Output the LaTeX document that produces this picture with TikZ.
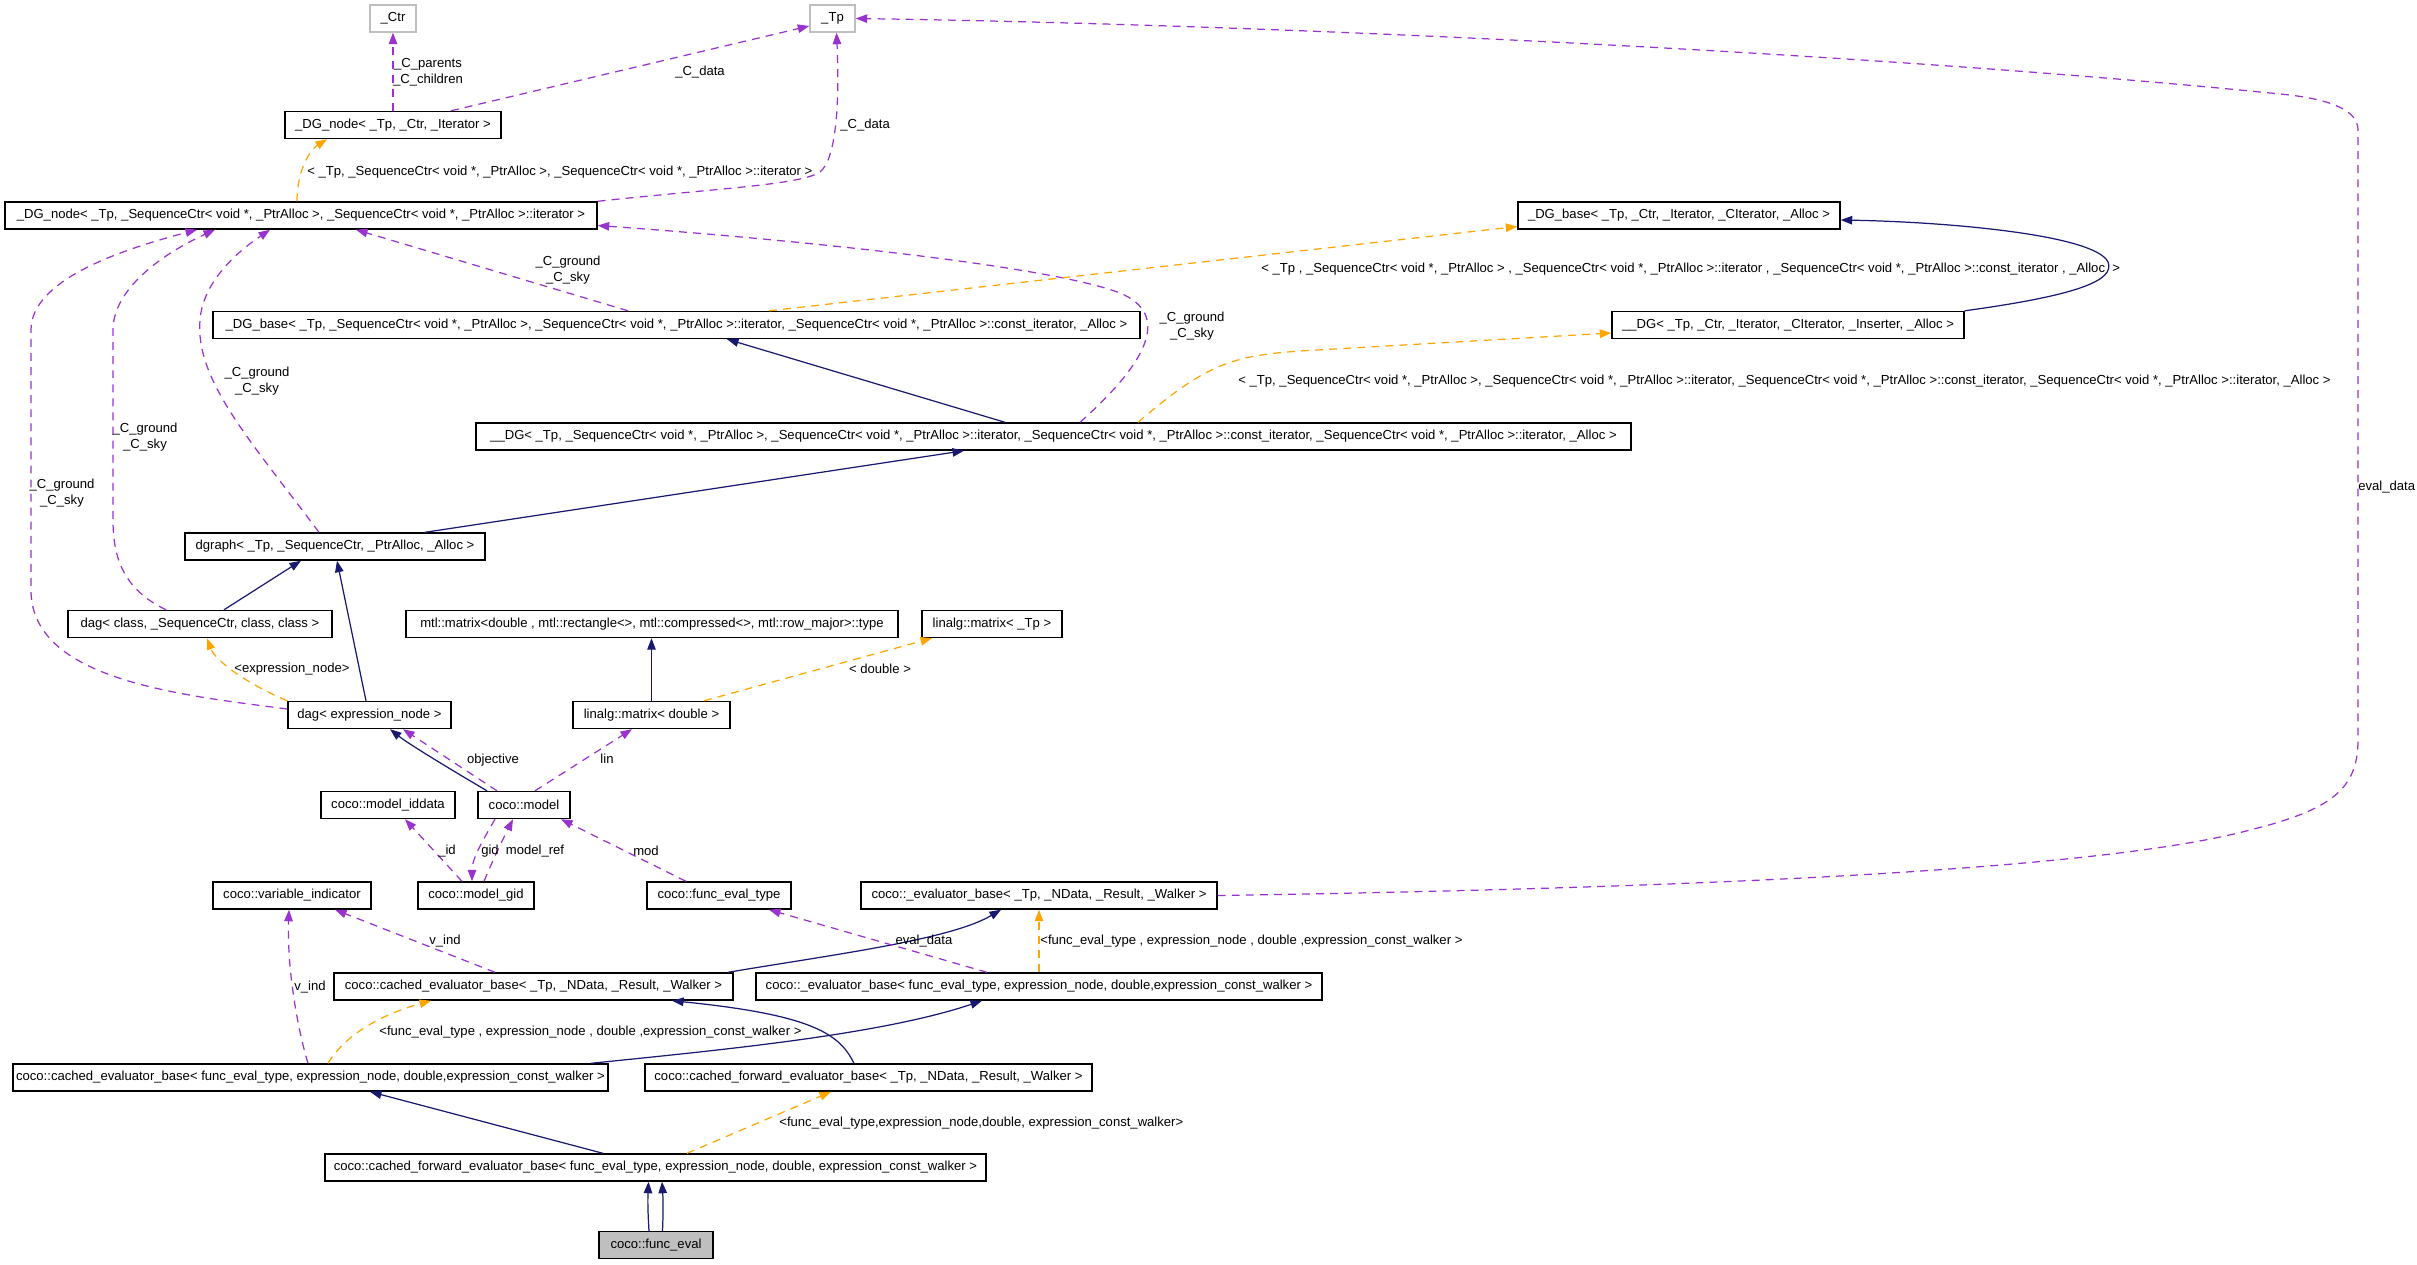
\documentclass[tikz,border=0pt]{standalone}
\usepackage{fontspec}
\setmainfont{Liberation Sans}
\usetikzlibrary{arrows.meta}
\definecolor{inhblue}{HTML}{191970}
\definecolor{usepurple}{HTML}{9A32CD}
\definecolor{tplorange}{HTML}{FFA500}
\definecolor{extgray}{HTML}{BFBFBF}

\begin{document}
\begin{tikzpicture}[
  every node/.style={font=\fontsize{7.45}{9}\selectfont},
  cls/.style    ={draw, line width=0.8pt, fill=white,
                  minimum height=0.54cm, inner xsep=1pt, inner ysep=0pt},
  ext/.style    ={cls, draw=extgray},
  focus/.style  ={cls, fill=extgray},
  lbl/.style    ={align=center, inner sep=0pt},
  inherit/.style={->, line width=0.7pt, inhblue},
  usage/.style  ={->, line width=0.7pt, usepurple, dash pattern=on 4.5pt off 3.5pt},
  templ/.style  ={->, line width=0.7pt, tplorange, dash pattern=on 4.5pt off 3.5pt},
  >={Triangle[length=0.23cm, width=0.17cm]}
]
\useasboundingbox (0,0) rectangle (48.34,-25.28);

%% ---- classes -------------------------------------------------------
\node[ext, minimum width=0.92cm]  (ctr)     at (7.86,-0.37)  {\_Ctr};
\node[ext, minimum width=0.90cm]  (tp)      at (16.65,-0.37) {\_Tp};
\node[cls, minimum width=4.32cm]  (dgnodeA) at (7.86,-2.50)  {\_DG\_node< \_Tp, \_Ctr, \_Iterator >};
\node[cls, minimum width=11.84cm] (dgnodeB) at (6.02,-4.31)
     {\_DG\_node< \_Tp, \_SequenceCtr< void *, \_PtrAlloc >, \_SequenceCtr< void *, \_PtrAlloc >::iterator >};
\node[cls, minimum width=6.44cm]  (dgbaseA) at (33.58,-4.31) {\_DG\_base< \_Tp, \_Ctr, \_Iterator, \_CIterator, \_Alloc >};
\node[cls, minimum width=7.04cm]  (dgA)     at (35.76,-6.50) {\_\_DG< \_Tp, \_Ctr, \_Iterator, \_CIterator, \_Inserter, \_Alloc >};
\node[cls, minimum width=18.54cm] (dgbaseB) at (13.53,-6.50)
     {\_DG\_base< \_Tp, \_SequenceCtr< void *, \_PtrAlloc >, \_SequenceCtr< void *, \_PtrAlloc >::iterator, \_SequenceCtr< void *, \_PtrAlloc >::const\_iterator, \_Alloc >};
\node[cls, minimum width=23.10cm] (dgB)     at (21.07,-8.73)
     {\_\_DG< \_Tp, \_SequenceCtr< void *, \_PtrAlloc >, \_SequenceCtr< void *, \_PtrAlloc >::iterator, \_SequenceCtr< void *, \_PtrAlloc >::const\_iterator, \_SequenceCtr< void *, \_PtrAlloc >::iterator, \_Alloc >};
\node[cls, minimum width=6.00cm]  (dgraph)  at (6.70,-10.93) {dgraph< \_Tp, \_SequenceCtr, \_PtrAlloc, \_Alloc >};
\node[cls, minimum width=5.28cm]  (dagcls)  at (4.00,-12.48) {dag< class, \_SequenceCtr, class, class >};
\node[cls, minimum width=9.84cm]  (mtlmat)  at (13.04,-12.48)
     {mtl::matrix<double , mtl::rectangle<>, mtl::compressed<>, mtl::row\_major>::type};
\node[cls, minimum width=2.80cm]  (lintp)   at (19.84,-12.48) {linalg::matrix< \_Tp >};
\node[cls, minimum width=3.26cm]  (dagexpr) at (7.39,-14.30)  {dag< expression\_node >};
\node[cls, minimum width=3.14cm]  (lindbl)  at (13.03,-14.30) {linalg::matrix< double >};
\node[cls, minimum width=2.68cm]  (iddata)  at (7.76,-16.10)  {coco::model\_iddata};
\node[cls, minimum width=1.84cm]  (model)   at (10.48,-16.10) {coco::model};
\node[cls, minimum width=3.16cm]  (varind)  at (5.84,-17.91)  {coco::variable\_indicator};
\node[cls, minimum width=2.32cm]  (gid)     at (9.52,-17.91)  {coco::model\_gid};
\node[cls, minimum width=2.88cm]  (fetype)  at (14.38,-17.91) {coco::func\_eval\_type};
\node[cls, minimum width=7.12cm]  (evbT)    at (20.78,-17.91) {coco::\_evaluator\_base< \_Tp, \_NData, \_Result, \_Walker >};
\node[cls, minimum width=7.98cm]  (cevbT)   at (10.67,-19.73) {coco::cached\_evaluator\_base< \_Tp, \_NData, \_Result, \_Walker >};
\node[cls, minimum width=11.32cm] (evbF)    at (20.78,-19.73)
     {coco::\_evaluator\_base< func\_eval\_type, expression\_node, double,expression\_const\_walker >};
\node[cls, minimum width=11.90cm] (cevbF)   at (6.21,-21.55)
     {coco::cached\_evaluator\_base< func\_eval\_type, expression\_node, double,expression\_const\_walker >};
\node[cls, minimum width=8.94cm]  (cfevbT)  at (17.37,-21.55) {coco::cached\_forward\_evaluator\_base< \_Tp, \_NData, \_Result, \_Walker >};
\node[cls, minimum width=13.22cm] (cfevbF)  at (13.11,-23.35)
     {coco::cached\_forward\_evaluator\_base< func\_eval\_type, expression\_node, double, expression\_const\_walker >};
\node[focus, minimum width=2.28cm] (funceval) at (13.12,-24.90) {coco::func\_eval};

%% ---- inheritance ---------------------------------------------------
\draw[inherit] ([xshift=-0.14cm]funceval.north) to[bend left=3] ([xshift=-0.14cm]cfevbF.south);
\draw[inherit] ([xshift=0.13cm]funceval.north) to[bend right=3] ([xshift=0.13cm]cfevbF.south);
\draw[inherit] ([xshift=-1.05cm]cfevbF.north) -- ([xshift=1.19cm]cevbF.south);
\draw[inherit] ([xshift=-0.29cm]cfevbT.north) .. controls (16.80,-20.70) and (16.30,-20.30) .. ([xshift=2.77cm]cevbT.south);
\draw[inherit] ([xshift=5.61cm]cevbF.north) .. controls (14.40,-21.00) and (17.60,-20.70) .. ([xshift=-1.14cm]evbF.south);
\draw[inherit] ([xshift=3.89cm]cevbT.north) .. controls (16.60,-19.10) and (19.00,-18.80) .. ([xshift=-0.76cm]evbT.south);
\draw[inherit] (lindbl.north) -- (lindbl.north |- mtlmat.south);
\draw[inherit] ([xshift=-0.74cm]model.north) .. controls (9.20,-15.50) and (8.20,-14.90) .. ([xshift=0.41cm]dagexpr.south);
\draw[inherit] ([xshift=-0.07cm]dagexpr.north) -- ([xshift=0.04cm]dgraph.south);
\draw[inherit] ([xshift=0.48cm]dagcls.north) -- ([xshift=-0.68cm]dgraph.south);
\draw[inherit] ([xshift=1.80cm]dgraph.north) -- ([xshift=-1.79cm]dgB.south);
\draw[inherit] ([xshift=-0.97cm]dgB.north) -- ([xshift=1.01cm]dgbaseB.south);
\draw[inherit] (dgA.north east) .. controls (41.60,-5.90) and (42.30,-5.60) .. (42.16,-5.24)
               .. controls (41.90,-4.70) and (39.00,-4.44) .. ([yshift=-0.09cm]dgbaseA.east);

%% ---- usage ---------------------------------------------------------
\draw[usage] (dgnodeA.north) -- (ctr.south);
\draw[usage] ([xshift=1.16cm]dgnodeA.north) -- ([yshift=-0.15cm]tp.west);
\draw[usage] (dgnodeB.north east) .. controls (14.40,-3.76) and (16.00,-3.70) .. (16.40,-3.44)
             .. controls (16.70,-3.20) and (16.80,-2.20) .. ([xshift=0.08cm]tp.south);
\draw[usage] ([xshift=0.53cm]dgB.north) .. controls (23.00,-7.20) and (23.40,-6.28) .. (22.40,-5.86)
             .. controls (21.00,-5.32) and (16.00,-4.80) .. ([yshift=-0.2cm]dgnodeB.east);
\draw[usage] ([xshift=-0.97cm]dgbaseB.north) -- ([xshift=1.10cm]dgnodeB.south);
\draw[usage] ([xshift=-0.32cm]dgraph.north) .. controls (5.00,-8.80) and (3.90,-7.60) .. (4.00,-6.40)
             .. controls (4.06,-5.60) and (4.80,-5.00) .. ([xshift=-0.62cm]dgnodeB.south);
\draw[usage] ([xshift=-0.68cm]dagcls.north) .. controls (2.50,-11.80) and (2.26,-11.20) .. (2.26,-10.40)
             -- (2.26,-6.60) .. controls (2.26,-5.80) and (3.20,-5.10) .. ([xshift=-1.72cm]dgnodeB.south);
\draw[usage] ([yshift=0.12cm]dagexpr.west) .. controls (3.60,-13.90) and (0.62,-13.60) .. (0.62,-11.80)
             -- (0.62,-6.60) .. controls (0.62,-5.60) and (2.40,-5.00) .. ([xshift=-2.08cm]dgnodeB.south);
\draw[usage] ([xshift=-0.54cm]model.north) -- ([xshift=0.67cm]dagexpr.south);
\draw[usage] ([xshift=0.22cm]model.north) -- ([xshift=-0.39cm]lindbl.south);
\draw[usage] ([xshift=-0.28cm]gid.north) -- ([xshift=0.34cm]iddata.south);
\draw[usage] ([xshift=-0.58cm]model.south) .. controls (9.60,-16.90) and (9.44,-17.20) .. ([xshift=-0.08cm]gid.north);
\draw[usage] ([xshift=0.16cm]gid.north) .. controls (9.90,-17.10) and (10.10,-16.70) .. ([xshift=-0.22cm]model.south);
\draw[usage] ([xshift=-0.66cm]fetype.north) -- ([xshift=0.74cm]model.south);
\draw[usage] ([xshift=-0.77cm]cevbT.north) -- ([xshift=0.86cm]varind.south);
\draw[usage] ([xshift=-1.04cm]evbF.north) -- ([xshift=1.00cm]fetype.south);
\draw[usage] ([xshift=-0.05cm]cevbF.north) .. controls (5.90,-20.40) and (5.74,-19.20) .. ([xshift=-0.06cm]varind.south);
\draw[usage] (evbT.east) .. controls (34.00,-17.76) and (42.00,-17.40) .. (45.00,-16.60)
             .. controls (46.60,-16.20) and (47.16,-15.80) .. (47.16,-14.80) -- (47.16,-2.60)
             .. controls (47.16,-2.20) and (46.60,-2.00) .. (45.80,-1.90)
             .. controls (38.00,-1.10) and (26.00,-0.50) .. (tp.east);

%% ---- template instances --------------------------------------------
\draw[templ] ([xshift=-0.08cm]dgnodeB.north) .. controls (5.94,-3.40) and (6.20,-3.00) .. ([xshift=-1.32cm]dgnodeA.south);
\draw[templ] ([xshift=1.85cm]dgbaseB.north) -- ([yshift=-0.22cm]dgbaseA.west);
\draw[templ] ([xshift=1.69cm]dgB.north) .. controls (24.10,-7.30) and (24.60,-7.12) .. (26.00,-7.02)
             -- ([yshift=-0.16cm]dgA.west);
\draw[templ] (dagexpr.north west) .. controls (4.90,-13.66) and (4.30,-13.20) .. ([xshift=0.14cm]dagcls.south);
\draw[templ] ([xshift=1.05cm]lindbl.north) -- ([xshift=-1.20cm]lintp.south);
\draw[templ] (evbF.north) -- (evbT.south);
\draw[templ] ([xshift=0.35cm]cevbF.north) .. controls (6.90,-20.70) and (7.60,-20.30) .. ([xshift=-2.05cm]cevbT.south);
\draw[templ] ([xshift=0.63cm]cfevbF.north) -- ([xshift=-0.75cm]cfevbT.south);

%% ---- labels --------------------------------------------------------
\node[lbl] (lparents) at (8.56,-1.45) {\_C\_parents\\\_C\_children};
\node[lbl] (ldataA)   at (14.00,-1.44) {\_C\_data};
\node[lbl, anchor=west] (ldataB) at (16.80,-2.50) {\_C\_data};
\node[lbl, anchor=west] (ltmplA) at (6.14,-3.44)
     {< \_Tp, \_SequenceCtr< void *, \_PtrAlloc >, \_SequenceCtr< void *, \_PtrAlloc >::iterator >};
\node[lbl] (lgsA) at (23.84,-6.52) {\_C\_ground\\\_C\_sky};
\node[lbl] (lgsB) at (11.36,-5.40) {\_C\_ground\\\_C\_sky};
\node[lbl] (lgsC) at (5.14,-7.62)  {\_C\_ground\\\_C\_sky};
\node[lbl] (lgsD) at (2.90,-8.74)  {\_C\_ground\\\_C\_sky};
\node[lbl] (lgsE) at (1.24,-9.86)  {\_C\_ground\\\_C\_sky};
\node[lbl, anchor=west] (ltmplB) at (25.22,-5.38)
     {< \_Tp , \_SequenceCtr< void *, \_PtrAlloc > , \_SequenceCtr< void *, \_PtrAlloc >::iterator , \_SequenceCtr< void *, \_PtrAlloc >::const\_iterator , \_Alloc\ \ >};
\node[lbl, anchor=west] (ltmplC) at (24.76,-7.62)
     {< \_Tp, \_SequenceCtr< void *, \_PtrAlloc >, \_SequenceCtr< void *, \_PtrAlloc >::iterator, \_SequenceCtr< void *, \_PtrAlloc >::const\_iterator, \_SequenceCtr< void *, \_PtrAlloc >::iterator, \_Alloc >};
\node[lbl] (lexpr) at (5.84,-13.38)  {<expression\_node>};
\node[lbl] (ldbl)  at (17.60,-13.38) {< double >};
\node[lbl] (lobj)  at (9.86,-15.20)  {objective};
\node[lbl] (llin)  at (12.14,-15.18) {lin};
\node[lbl] (lid)   at (8.94,-17.02)  {\_id};
\node[lbl] (lgid)  at (9.80,-17.02)  {gid};
\node[lbl] (lmref) at (10.70,-17.02) {model\_ref};
\node[lbl] (lmod)  at (12.92,-17.02) {mod};
\node[lbl, anchor=west] (levdataA) at (47.16,-9.74) {eval\_data};
\node[lbl] (lvindA)   at (8.90,-18.82)  {v\_ind};
\node[lbl] (levdataB) at (18.48,-18.82) {eval\_data};
\node[lbl, anchor=west] (ltmplD) at (20.80,-18.82)
     {<func\_eval\_type , expression\_node , double ,expression\_const\_walker >};
\node[lbl, anchor=west] (lvindB) at (5.88,-19.74) {v\_ind};
\node[lbl, anchor=west] (ltmplE) at (7.58,-20.64)
     {<func\_eval\_type , expression\_node , double ,expression\_const\_walker >};
\node[lbl, anchor=west] (ltmplF) at (15.58,-22.46)
     {<func\_eval\_type,expression\_node,double, expression\_const\_walker>};

\end{tikzpicture}
\end{document}
